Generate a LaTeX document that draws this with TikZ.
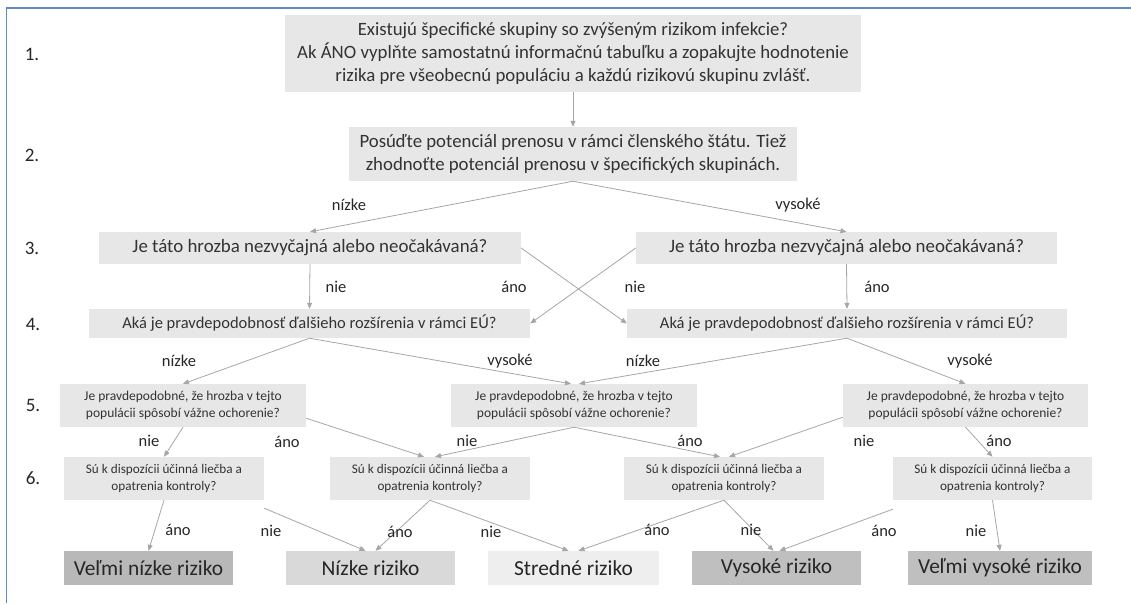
\documentclass[tikz,border=0pt]{standalone}
\usepackage{fontspec}
\setmainfont{Carlito}
\usepackage{tikz}
\usetikzlibrary{arrows.meta}
\definecolor{boxgray}{HTML}{E7E7E7}
\definecolor{linegray}{HTML}{A6A6A6}
\definecolor{txtgray}{HTML}{333333}
\definecolor{frameblue}{HTML}{5B8BC9}

\begin{document}
\begin{tikzpicture}[x=1pt,y=-1pt,
    qbox/.style={fill=boxgray, inner sep=0pt, align=center, text=txtgray},
    rbox/.style={inner sep=0pt, minimum width=169pt, minimum height=34pt, text=black!85,
                 font=\fontsize{21.4}{24}\selectfont},
    lbl/.style={text=black!85, font=\fontsize{16.5}{18}\selectfont},
    stepnum/.style={text=black!85, font=\fontsize{19}{20}\selectfont},
    arr/.style={draw=linegray, line width=0.8pt, -{Triangle[length=6pt,width=5pt]}}]
    \useasboundingbox (0,0) rectangle (1131,603);
    \draw[frameblue, line width=1.5pt] (6.5,603) -- (6.5,8) -- (1131,8);

    % step numbers
    \node[stepnum] (s1) at (32,54) {1.};
    \node[stepnum] (s2) at (32,155) {2.};
    \node[stepnum] (s3) at (32,248) {3.};
    \node[stepnum] (s4) at (33,324) {4.};
    \node[stepnum] (s5) at (33,405) {5.};
    \node[stepnum] (s6) at (33,478) {6.};

    % questions
    \node[qbox, minimum width=576pt, minimum height=77pt, font=\fontsize{18.8}{22.7}\selectfont] (q1) at (573,53.5)
        {Existujú špecifické skupiny so zvýšeným rizikom infekcie?\\
         Ak ÁNO vyplňte samostatnú informačnú tabuľku a zopakujte hodnotenie\\
         rizika pre všeobecnú populáciu a každú rizikovú skupinu zvlášť.};
    \node[qbox, minimum width=448pt, minimum height=54pt, font=\fontsize{18.8}{22.7}\selectfont] (q2) at (573,154)
        {Posúďte potenciál prenosu v rámci členského štátu. Tiež\\
         zhodnoťte potenciál prenosu v špecifických skupinách.};
    \node[qbox, minimum width=422pt, minimum height=32pt, font=\fontsize{18.9}{20}\selectfont] (q3l) at (310,248)
        {Je táto hrozba nezvyčajná alebo neočakávaná?};
    \node[qbox, minimum width=421pt, minimum height=32pt, font=\fontsize{18.9}{20}\selectfont] (q3r) at (846.5,248)
        {Je táto hrozba nezvyčajná alebo neočakávaná?};
    \node[qbox, minimum width=441pt, minimum height=29pt, font=\fontsize{16.5}{20}\selectfont] (q4l) at (309.5,323.5)
        {Aká je pravdepodobnosť ďalšieho rozšírenia v rámci EÚ?};
    \node[qbox, minimum width=440pt, minimum height=29pt, font=\fontsize{16.5}{20}\selectfont] (q4r) at (847,323.5)
        {Aká je pravdepodobnosť ďalšieho rozšírenia v rámci EÚ?};
    \node[qbox, minimum width=246pt, minimum height=43pt, font=\fontsize{13.5}{16.7}\selectfont] (q5l) at (183,405.5)
        {Je pravdepodobné, že hrozba v tejto\\ populácii spôsobí vážne ochorenie?};
    \node[qbox, minimum width=246pt, minimum height=43pt, font=\fontsize{13.5}{16.7}\selectfont] (q5m) at (574,405.5)
        {Je pravdepodobné, že hrozba v tejto\\ populácii spôsobí vážne ochorenie?};
    \node[qbox, minimum width=245pt, minimum height=43pt, font=\fontsize{13.5}{16.7}\selectfont] (q5r) at (965.5,405.5)
        {Je pravdepodobné, že hrozba v tejto\\ populácii spôsobí vážne ochorenie?};
    \node[qbox, minimum width=200pt, minimum height=43pt, font=\fontsize{13.2}{17.3}\selectfont] (q6a) at (164,478.5)
        {Sú k dispozícii účinná liečba a\\ opatrenia kontroly?};
    \node[qbox, minimum width=200pt, minimum height=43pt, font=\fontsize{13.2}{17.3}\selectfont] (q6b) at (430,478.5)
        {Sú k dispozícii účinná liečba a\\ opatrenia kontroly?};
    \node[qbox, minimum width=200pt, minimum height=43pt, font=\fontsize{13.2}{17.3}\selectfont] (q6c) at (724,478.5)
        {Sú k dispozícii účinná liečba a\\ opatrenia kontroly?};
    \node[qbox, minimum width=199pt, minimum height=43pt, font=\fontsize{13.2}{17.3}\selectfont] (q6d) at (992.5,478.5)
        {Sú k dispozícii účinná liečba a\\ opatrenia kontroly?};

    % results
    \node[rbox, fill={rgb,255:red,184;green,184;blue,184}] (r1) at (148.5,568) {Veľmi nízke riziko};
    \node[rbox, fill={rgb,255:red,217;green,217;blue,217}] (r2) at (370.5,568) {Nízke riziko};
    \node[rbox, fill={rgb,255:red,238;green,238;blue,238}, minimum width=171pt] (r3) at (573.5,568) {Stredné riziko};
    \node[rbox, fill={rgb,255:red,191;green,191;blue,191}] (r4) at (776.5,568) {Vysoké riziko};
    \node[rbox, fill={rgb,255:red,191;green,191;blue,191}, minimum width=184pt] (r5) at (1000,568) {Veľmi vysoké riziko};

    % connectors
    \draw[arr] (q1.south) -- (q2.north);
    \draw[arr] (q2.south) -- (q3l.north);
    \draw[arr] (q2.south) -- (q3r.north);
    \draw[arr] (q3l.south) -- (q4l.north);
    \draw[arr] (q3r.south) -- (q4r.north);
    \draw[arr] (q3l.east) -- (q4r.west);
    \draw[arr] (q3r.west) -- (q4l.east);
    \draw[arr] (q4l.south) -- (q5l.north);
    \draw[arr] (q4l.south) -- ([xshift=-3pt]q5m.north);
    \draw[arr] (q4r.south) -- ([xshift=5pt]q5m.north);
    \draw[arr] (q4r.south) -- (q5r.north);
    \draw[arr] (q5l.south) -- (q6a.north);
    \draw[arr] ([yshift=9pt]q5l.south east) -- ([xshift=-6pt]q6b.north);
    \draw[arr] (q5m.south) -- ([xshift=5pt]q6b.north);
    \draw[arr] (q5m.south) -- ([xshift=-4pt]q6c.north);
    \draw[arr] ([yshift=10pt]q5r.south west) -- ([xshift=5pt]q6c.north);
    \draw[arr] (q5r.south) -- (q6d.north);
    \draw[arr] (q6a.south) -- (r1.north);
    \draw[arr] ([yshift=-8pt]q6a.south east) -- ([xshift=-5pt]r2.north);
    \draw[arr] (q6b.south) -- ([xshift=5pt]r2.north);
    \draw[arr] (q6b.south) -- ([xshift=-5pt]r3.north);
    \draw[arr] (q6c.south) -- ([xshift=5pt]r3.north);
    \draw[arr] (q6c.south) -- ([xshift=-3pt]r4.north);
    \draw[arr] ([yshift=-9pt]q6d.south west) -- ([xshift=3pt]r4.north);
    \draw[arr] (q6d.south) -- (r5.north);

    % labels
    \node[lbl] (l2a) at (349,205) {nízke};
    \node[lbl] (l2b) at (798,205) {vysoké};
    \node[lbl] (l3a) at (336,287) {nie};
    \node[lbl] (l3b) at (514,287) {áno};
    \node[lbl] (l3c) at (635,287) {nie};
    \node[lbl] (l3d) at (877,287) {áno};
    \node[lbl] (l4a) at (179,361) {nízke};
    \node[lbl] (l4b) at (510,361) {vysoké};
    \node[lbl] (l4c) at (643,361) {nízke};
    \node[lbl] (l4d) at (970,361) {vysoké};
    \node[lbl] (l5a) at (149,441) {nie};
    \node[lbl] (l5b) at (287,442) {áno};
    \node[lbl] (l5c) at (467,441) {nie};
    \node[lbl] (l5d) at (690,441) {áno};
    \node[lbl] (l5e) at (864,441) {nie};
    \node[lbl] (l5f) at (999,441) {áno};
    \node[lbl] (l6a) at (178,530) {áno};
    \node[lbl] (l6b) at (271,531) {nie};
    \node[lbl] (l6c) at (400,532) {áno};
    \node[lbl] (l6d) at (491,532) {nie};
    \node[lbl] (l6e) at (657,530) {áno};
    \node[lbl] (l6f) at (751,530) {nie};
    \node[lbl] (l6g) at (884,531) {áno};
    \node[lbl] (l6h) at (976,531) {nie};
\end{tikzpicture}
\end{document}
